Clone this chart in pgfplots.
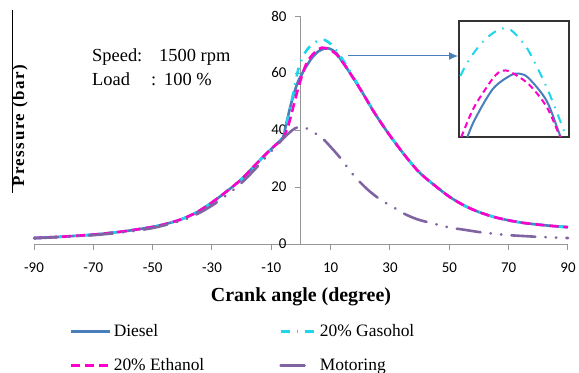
\documentclass[border=0pt]{standalone}
\usepackage{fontspec}
\setmainfont{Liberation Serif}
\newfontfamily\tickfont{Carlito}
\usepackage{pgfplots}
\usepackage{pgfplotstable}
\pgfplotsset{compat=1.18}
\usetikzlibrary{arrows.meta}

\definecolor{dieselc}{RGB}{74,126,187}
\definecolor{gasc}{RGB}{30,214,236}
\definecolor{ethc}{RGB}{255,0,204}
\definecolor{motc}{RGB}{128,100,162}
\definecolor{axgray}{RGB}{150,150,150}

\pgfplotsset{
  leglen/.style={legend image code/.code={\draw[##1] (0bp,0bp) -- (#1,0bp);}},
}

\pgfplotstableread{
x y
-90 2.1
-80 2.6
-70 3.3
-60 4.4
-50 6.0
-45 7.2
-40 8.8
-35 11.2
-30 14.6
-25 18.5
-20 22.8
-15 28.2
-10 33.4
-7 36.3
-6 37.5
-5 42
-4 46.5
-3 50.5
-2 54
-1 57
0 59
1 61
2 62.7
3 64.3
4 65.7
6 67.7
8 68.6
9 68.7
10 68.4
12 66.9
13.5 64.6
15 62.4
18 57.6
21 52.6
24 47.3
27 42.5
30 38
33 33.8
36 29.8
40 25
45 20.6
50 16.6
55 13.5
60 11.2
65 9.5
70 8.3
75 7.4
80 6.8
85 6.3
90 5.9
}\diesel

\pgfplotstableread{
x y
-90 2.1
-80 2.6
-70 3.3
-60 4.4
-50 6.0
-45 7.2
-40 8.8
-35 11.2
-30 14.6
-25 18.5
-20 22.8
-15 28.2
-10 33.4
-7 36.3
-6 37.5
-5 41.5
-4 46
-3 51
-2 56
-1 61
0 64.2
1 66.5
2 68.1
3 69.3
4 70.2
5 70.9
6 71.4
7 71.7
8 71.6
9 71.0
10 70.2
12 67.8
14 64.8
16 61.4
18 58
21 52.8
24 47.4
27 42.5
30 38
33 33.8
36 29.8
40 25
45 20.6
50 16.6
55 13.5
60 11.2
65 9.5
70 8.3
75 7.4
80 6.8
85 6.3
90 5.9
}\gasohol

\pgfplotstableread{
x y
-90 2.1
-80 2.6
-70 3.3
-60 4.4
-50 6.0
-45 7.2
-40 8.8
-35 11.2
-30 14.6
-25 18.5
-20 22.8
-15 28.2
-10 33.4
-7 36.1
-6 37
-5 39.5
-4 42.5
-3 46.5
-2 50.5
-1 54.5
0 58
1 61.2
2 63.7
3 65.3
4 66.6
6 68.4
7 68.9
8 68.8
10 68.0
12 66.5
13.5 64.5
15 62.4
18 57.6
21 52.6
24 47.3
27 42.5
30 38
33 33.8
36 29.8
40 25
45 20.6
50 16.6
55 13.5
60 11.2
65 9.5
70 8.3
75 7.4
80 6.8
85 6.3
90 5.9
}\ethanol

\pgfplotstableread{
x y
-90 2.0
-80 2.5
-70 3.1
-60 4.1
-50 5.6
-40 8.3
-35 10.5
-30 13.5
-25 17.2
-20 21.5
-15 26.8
-10 32.5
-6 37
-4 39
-2 40.6
0 41.2
2 40.5
4 39.3
7 37.3
10.4 33.6
13.8 29.5
17 25
20 21.6
23 18.6
27 15.4
31.6 12.6
35 10.5
39.4 8.6
44.5 7.2
50 5.8
55 5.0
60 4.2
65 3.6
70 3.1
75 2.8
80 2.5
85 2.3
90 2.1
}\motoring

\begin{document}
\begin{tikzpicture}
\path[use as bounding box] (0bp,0bp) rectangle (579bp,373bp);

\begin{axis}[
  at={(34bp,129bp)}, anchor=south west,
  width=534bp, height=228bp, scale only axis,
  xmin=-90, xmax=90, ymin=0, ymax=80,
  axis lines=middle,
  axis line style={draw=axgray, line width=1bp, -},
  xtick={-90,-70,-50,-30,-10,10,30,50,70,90},
  xticklabels={-90,-70,-50,-30,-10,10,30,50,70,90},
  ytick={0,20,40,60,80},
  yticklabels={0,20,40,60,80},
  tick style={draw=axgray, line width=1bp},
  major tick length=6bp,
  tick align=outside,
  hide obscured x ticks=false, hide obscured y ticks=false,
  ticklabel style={font=\tickfont\fontsize{15}{17}\selectfont, text=black},
  xticklabel style={yshift=-9bp},
  yticklabel style={xshift=-5bp},
  clip=false,
  legend style={draw=none, fill=none, at={(0.0674,-0.345)}, anchor=north west,
    font=\fontsize{17.5}{20}\selectfont, row sep=16bp,
    /tikz/every even column/.append style={column sep=73bp},
    inner sep=0pt},
  legend columns=2,
  legend cell align=left,
]
\addplot[dieselc, line width=2.6bp, smooth, tension=0.5, leglen=39bp] table {\diesel};
\addlegendentry{Diesel}
\addplot[gasc, line width=2.6bp, smooth, tension=0.5, dash pattern=on 9bp off 7bp on 1.5bp off 7bp, leglen=36bp] table {\gasohol};
\addlegendentry{20\% Gasohol}
\addplot[ethc, line width=2.6bp, smooth, tension=0.5, dash pattern=on 9bp off 5bp, leglen=37bp] table {\ethanol};
\addlegendentry{20\% Ethanol}
\addplot[motc, line width=2.6bp, smooth, tension=0.5, line cap=round,
  dash pattern=on 24bp off 10bp on 0.5bp off 10bp on 0.5bp off 10bp, leglen=26bp] table {\motoring};
\addlegendentry{Motoring}
\end{axis}

\begin{axis}[
  at={(459bp,236bp)}, anchor=south west,
  width=110bp, height=116bp, scale only axis,
  xmin=2.2, xmax=14.5, ymin=64.5, ymax=72.2,
  ticks=none,
  axis line style={draw=black!80, line width=1.3bp},
  axis background/.style={fill=white},
]
\addplot[dieselc, line width=2bp, smooth, tension=0.5] table {\diesel};
\addplot[gasc, line width=2bp, smooth, tension=0.5, dash pattern=on 9bp off 7bp on 1.5bp off 7bp] table {\gasohol};
\addplot[ethc, line width=2bp, smooth, tension=0.5, dash pattern=on 6bp off 4bp] table {\ethanol};
\end{axis}

\draw[dieselc, line width=1bp, -{Latex[length=9bp,width=8bp]}] (348bp,317bp) -- (458bp,317bp);

\begin{scope}[every node/.style={anchor=base west, font=\fontsize{18.5}{20}\selectfont, inner sep=0pt}]
\node at (92bp,311bp) {Speed};
\node at (137bp,311bp) {:};
\node at (159bp,311bp) {1500 rpm};
\node at (92bp,287bp) {Load};
\node at (151bp,287bp) {:};
\node at (164bp,287bp) {100 \%};
\end{scope}

\node[font=\bfseries\fontsize{20}{22}\selectfont] at (301bp,76bp) {Crank angle (degree)};
\node[rotate=90, font=\bfseries\fontsize{17}{20}\selectfont\addfontfeature{LetterSpace=9}] at (20bp,247bp) {Pressure (bar)};
\draw[black, line width=0.8bp] (12bp,180bp) -- (12bp,363bp);
\end{tikzpicture}
\end{document}
